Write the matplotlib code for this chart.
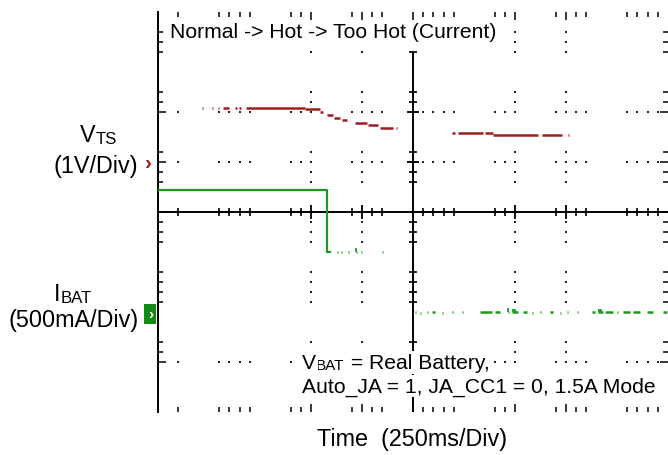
import matplotlib
matplotlib.use('Agg')
import matplotlib.pyplot as plt

plt.rcParams['font.family'] = ['Liberation Sans', 'DejaVu Sans']

# scope settings
ms_per_div = 250
v_per_div = 1.0
a_per_div = 0.5
vts_offset = 1.0      # ground marker of V_TS, in div
ibat_offset = -2.04   # ground marker of I_BAT, in div

# V_TS trace (sampled pieces): start ms, end ms, level V
vts_t0 = [216, 265, 294, 319, 377, 397, 431, 721, 794, 828, 863, 902, 966, 1029, 1088, 1167,
          1441, 1471, 1603, 1642, 1882, 2010]
vts_t1 = [221, 270, 299, 348, 387, 407, 721, 794, 809, 858, 892, 926, 1025, 1078, 1152, 1172,
          1456, 1593, 1642, 1863, 1980, 2015]
vts_v = [1.09, 1.09, 1.09, 1.09, 1.09, 1.09, 1.09, 1.06, 1.01, 0.94, 0.89, 0.85, 0.78, 0.74, 0.69, 0.69,
         0.58, 0.58, 0.59, 0.55, 0.55, 0.55]

# I_BAT trace: normal -> hot step
ibat_t = [0, 828, 828, 843]
ibat_a = [1.245, 1.245, 0.62, 0.62]
# I_BAT sampled pieces after the step
ibat_t0 = [877, 897, 931, 971, 995, 1098, 1260, 1284, 1319, 1343, 1392, 1441, 1490, 1578, 1652, 1716,
           1735, 1789, 1833, 1873, 1922, 1971, 2005, 2054, 2127, 2157, 2191, 2250, 2279, 2328, 2397, 2475]
ibat_t1 = [882, 902, 936, 976, 1000, 1103, 1265, 1289, 1324, 1358, 1397, 1446, 1495, 1637, 1676, 1721,
           1765, 1809, 1838, 1878, 1936, 1976, 2010, 2059, 2142, 2181, 2230, 2255, 2314, 2363, 2426, 2495]
ibat_lvl = [0.62, 0.62, 0.62, 0.62, 0.62, 0.62, 0.02, 0.01, 0.02, 0.02, 0.01, 0.02, 0.02, 0.02, 0.02, 0.02,
            0.02, 0.02, 0.01, 0.02, 0.02, 0.01, 0.02, 0.02, 0.02, 0.02, 0.02, 0.02, 0.02, 0.02, 0.02, 0.02]
spike_t = [973, 1716, 1740, 1750, 2160, 2172]
spike_base = [0.62, 0.02, 0.02, 0.02, 0.02, 0.02]
spike_a = [0.66, 0.06, 0.05, 0.05, 0.05, 0.05]

# graticule marks that survive in the screenshot (0.2 div steps, x from left, y from top)
kx = [2, 6, 7, 8, 9, 13, 14, 15, 19, 20, 21, 22, 26, 27, 28, 29, 33, 34, 35, 39, 40, 41, 42, 46, 47, 48, 49]
ky = [2, 3, 4, 8, 9, 10, 14, 15, 16, 17, 21, 22, 23, 26, 27, 28, 29, 33, 34, 35]

red = '#9b1f1f'
green = '#1f9a1f'
W, H = 668, 456

fig = plt.figure(figsize=(W / 100, H / 100), dpi=100)
ax = fig.add_axes([158 / W, (H - 413) / H, 510 / W, 400 / H])
ax.set_xlim(0, 10 * ms_per_div)
ax.set_ylim(-4, 4)

gx = [k * 0.2 * ms_per_div for k in kx]
gy = [4 - k * 0.2 for k in ky]
col_major = [k * 0.2 * ms_per_div for k in kx if k % 5 == 0]
row_major = [4 - k * 0.2 for k in ky if k % 5 == 0]
gx_minor = [k * 0.2 * ms_per_div for k in kx if k % 5]

# dotted graticule
for x in col_major:
    ax.scatter([x] * len(gy), gy, s=2.2, marker='s', color='#222222', lw=0, zorder=1)
for y in row_major:
    ax.scatter(gx, [y] * len(gx), s=2.2, marker='s', color='#222222', lw=0, zorder=1)

# centre cross with ticks
mid = 5 * ms_per_div
ax.axhline(0, color='black', lw=1.4, zorder=2)
ax.plot([mid, mid], [-4, 3.2], color='black', lw=1.4, zorder=2)
ax.plot(gx_minor, [0] * len(gx_minor), ls='none', marker='|', ms=5.5, mew=1.2, color='black', zorder=2)
ax.plot(col_major, [0] * len(col_major), ls='none', marker='|', ms=9.5, mew=1.3, color='black', zorder=2)
ax.plot([mid] * len(gy), gy, ls='none', marker='_', ms=5.5, mew=1.2, color='black', zorder=2)
ax.plot([mid] * len(row_major), row_major, ls='none', marker='_', ms=9, mew=1.3, color='black', zorder=2)

# border ticks
ax.set_xticks(col_major + [mid])
ax.set_xticks(gx, minor=True)
ax.set_yticks(row_major + [0])
ax.set_yticks(gy, minor=True)
ax.tick_params(which='both', direction='in', top=True, bottom=True, left=True, right=True,
               labelbottom=False, labelleft=False, color='black', width=1.1)
ax.tick_params(which='major', length=6)
ax.tick_params(which='minor', length=3.5)
for s in ['top', 'bottom', 'right']:
    ax.spines[s].set_visible(False)
ax.spines['left'].set_linewidth(1.4)

# traces
vts_y = [v / v_per_div + vts_offset for v in vts_v]
ax.hlines(vts_y, vts_t0, vts_t1, color=red, lw=1.8, zorder=3)

ax.plot(ibat_t, [a / a_per_div + ibat_offset for a in ibat_a], color=green, lw=1.6, zorder=3)
ax.hlines([a / a_per_div + ibat_offset for a in ibat_lvl], ibat_t0, ibat_t1, color=green, lw=1.8, zorder=3)
ax.vlines(spike_t, [a / a_per_div + ibat_offset for a in spike_base],
          [a / a_per_div + ibat_offset for a in spike_a], color=green, lw=1.3, zorder=3)

# channel markers
ytr = ax.get_yaxis_transform()
ax.text(-0.018, vts_offset, '›', color=red, fontsize=15, fontweight='bold', ha='center', va='center',
        transform=ytr, clip_on=False)
ax.text(-0.015, ibat_offset, '›', color='white', fontsize=11, fontweight='bold', ha='center', va='center',
        transform=ytr, clip_on=False,
        bbox=dict(boxstyle='square,pad=0.22', fc='#138a13', ec='none'))

fs = 15.2      # texts inside the screen
fs_side = 16.8  # channel labels and time base
white = dict(boxstyle='square,pad=0.08', fc='white', ec='none')


def px(x, y):
    return x / W, 1 - y / H


def sub_label(x, y, main, sub, rest='', size=fs, box=None):
    # main letter with a small subscript, like the scope labels
    t = fig.text(*px(x, y), main, fontsize=size, va='baseline', ha='left', bbox=box)
    s = ax.annotate(sub, xy=(1, 0), xycoords=t, fontsize=size * 0.72, va='bottom', ha='left',
                    annotation_clip=False, bbox=box)
    if rest:
        ax.annotate(rest, xy=(1, 0), xycoords=(s, t), fontsize=size, va='bottom', ha='left',
                    annotation_clip=False, bbox=box)


fig.text(*px(170, 33), 'Normal -> Hot -> Too Hot (Current)', fontsize=fs, va='center', ha='left', bbox=white)
sub_label(80, 142, 'V', 'TS', size=fs_side)
fig.text(*px(138, 167), '(1V/Div)', fontsize=fs_side, va='center', ha='right')
sub_label(54, 301, 'I', 'BAT', size=fs_side)
fig.text(*px(139, 321), '(500mA/Div)', fontsize=fs_side, va='center', ha='right')
sub_label(302, 369, 'V', 'BAT', ' = Real Battery,', box=white)
fig.text(*px(302, 387), 'Auto_JA = 1, JA_CC1 = 0, 1.5A Mode', fontsize=fs, va='center', ha='left', bbox=white)
fig.text(*px(412, 440), 'Time  (250ms/Div)', fontsize=fs_side, va='center', ha='center')

fig.savefig('out.png', dpi=100)
